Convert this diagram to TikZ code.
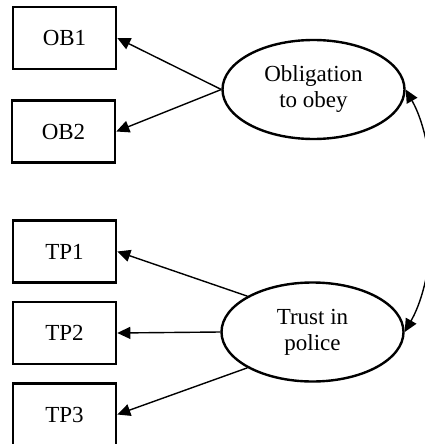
\documentclass[tikz,border=0pt]{standalone}
\usepackage{fontspec}
\setmainfont{Liberation Serif}
\usetikzlibrary{shapes.geometric,arrows.meta}
\begin{document}
\begin{tikzpicture}[x=1pt,y=1pt,
  indicator/.style={draw,rectangle,line width=2.6pt,minimum width=103pt,minimum height=62pt,inner sep=0pt,font=\fontsize{23}{26}\selectfont},
  factor/.style={draw,ellipse,line width=2.4pt,minimum width=182pt,minimum height=99pt,inner sep=0pt,align=center,font=\fontsize{23}{26}\selectfont},
  load/.style={-{Triangle[length=13pt,width=12pt]},line width=1.4pt},
  covar/.style={{Triangle[length=13pt,width=12pt]}-{Triangle[length=13pt,width=12pt]},line width=1.4pt}]
\useasboundingbox (0,0) rectangle (425,-444);
\begin{scope}
\clip (0,0) rectangle (425,-444);
% indicator boxes
\node[indicator] (ob1) at (64.5,-38) {OB1};
\node[indicator] (ob2) at (63.5,-131.5) {OB2};
\node[indicator] (tp1) at (64.5,-251.5) {TP1};
\node[indicator] (tp2) at (64.5,-333) {TP2};
\node[indicator] (tp3) at (64.5,-414.5) {TP3};
% latent factors
\node[factor] (ob) at (313.5,-89.5) {Obligation\\to obey};
\node[factor] (tp) at (312.5,-332) {Trust in\\police};
% loadings
\draw[load] (ob.west) -- (ob1.east);
\draw[load] (ob.west) -- (ob2.east);
\draw[load] (tp.north west) -- (tp1.east);
\draw[load] (tp.west) -- (tp2.east);
\draw[load] (tp.south west) -- (tp3.east);
% factor covariance
\draw[covar] (ob.east) .. controls (440,-150) and (440,-270) .. (tp.east);
\end{scope}
\end{tikzpicture}
\end{document}
